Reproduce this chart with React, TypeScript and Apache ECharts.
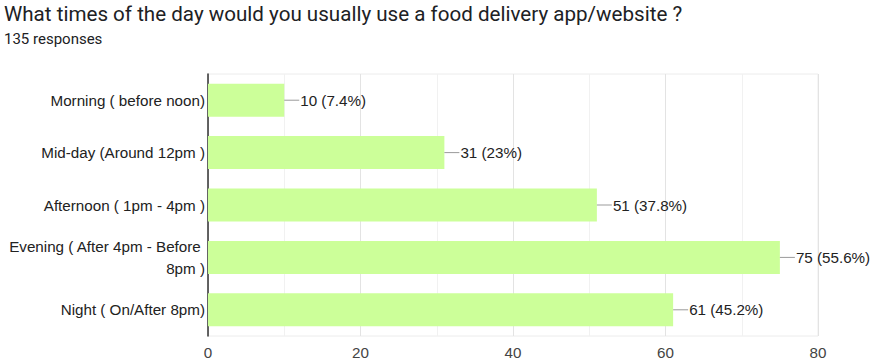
import React, { useEffect, useRef } from "react";
import * as echarts from "echarts";

const titleText = "What times of the day would you usually use a food delivery app/website ?";
const subtitleText = "135 responses";
const categories = [
  "Morning ( before noon)",
  "Mid-day (Around 12pm )",
  "Afternoon ( 1pm - 4pm )",
  "Evening ( After 4pm - Before 8pm )",
  "Night ( On/After 8pm)",
];
const counts = [10, 31, 51, 75, 61];
const percents = ["7.4%", "23%", "37.8%", "55.6%", "45.2%"];
const xTicks = [0, 20, 40, 60, 80];

const FS = 15.2;

export default function App() {
  const ref = useRef<HTMLDivElement>(null);
  useEffect(() => {
    document.body.style.margin = "0";
    const chart = echarts.init(ref.current!, null, { renderer: "svg" });
    chart.setOption({
      animation: false,
      backgroundColor: "#ffffff",
      title: {
        left: 4,
        top: 3,
        padding: 0,
        text: titleText,
        subtext: subtitleText,
        itemGap: 7,
        textStyle: { fontFamily: "Roboto", fontSize: 20.6, fontWeight: "normal", color: "#202124" },
        subtextStyle: { fontFamily: "Roboto", fontSize: 15, color: "#202124" },
      },
      grid: {
        left: 208,
        right: 53,
        top: 74,
        bottom: 24,
        show: true,
        borderColor: "#ececec",
        borderWidth: 1,
      },
      xAxis: {
        type: "value",
        min: xTicks[0],
        max: xTicks[xTicks.length - 1],
        interval: 20,
        axisLine: { show: false },
        axisTick: { show: false },
        splitLine: { show: true, lineStyle: { color: "#e3e3e3" } },
        minorTick: { show: false, splitNumber: 2 },
        minorSplitLine: { show: true, lineStyle: { color: "#f1f1f1" } },
        axisLabel: { fontFamily: "Liberation Sans", fontSize: FS, color: "#444", margin: 9 },
      },
      yAxis: {
        type: "category",
        data: categories,
        inverse: true,
        axisLine: { show: true, lineStyle: { color: "#333", width: 1.5 } },
        axisTick: { show: false },
        axisLabel: {
          fontFamily: "Liberation Sans",
          fontSize: FS,
          color: "#222",
          margin: 3,
          width: 200,
          overflow: "break",
          lineHeight: 22,
          align: "right",
        },
      },
      series: [
        {
          type: "bar",
          data: counts,
          barWidth: 33,
          itemStyle: { color: "#ccff99" },
          label: {
            show: true,
            position: "right",
            distance: 0,
            formatter: (p: any) => `{l|}{t|${p.value} (${percents[p.dataIndex]})}`,
            rich: {
              l: { width: 15, height: 1, backgroundColor: "#9a9a9a" },
              t: { fontFamily: "Liberation Sans", fontSize: FS, color: "#222", padding: [0, 0, 0, 1] },
            },
          },
        },
      ],
    });
    return () => chart.dispose();
  }, []);
  return <div ref={ref} style={{ width: 871, height: 360 }} />;
}
